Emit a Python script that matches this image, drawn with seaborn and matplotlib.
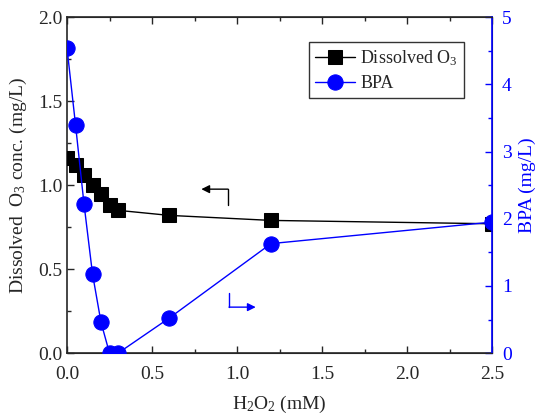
import numpy as np
import pandas as pd
import matplotlib
matplotlib.use("Agg")
import matplotlib.pyplot as plt
from matplotlib.ticker import MultipleLocator, FormatStrFormatter
import seaborn as sns

# ---- data ----
h2o2 = [0.0, 0.05, 0.1, 0.15, 0.2, 0.25, 0.3, 0.6, 1.2, 2.5]
o3_conc = [1.16, 1.12, 1.06, 1.00, 0.95, 0.88, 0.85, 0.82, 0.79, 0.77]
bpa_conc = [4.54, 3.40, 2.22, 1.18, 0.46, 0.0, 0.0, 0.52, 1.63, 1.95]

df = pd.DataFrame({"h2o2": h2o2, "o3": o3_conc, "bpa": bpa_conc})

# ---- styling ----
sns.set_style("ticks")
plt.rcParams["font.family"] = ["Liberation Serif", "DejaVu Serif"]
plt.rcParams["mathtext.fontset"] = "custom"
plt.rcParams["mathtext.rm"] = "Liberation Serif"
plt.rcParams["mathtext.default"] = "regular"
plt.rcParams["font.size"] = 13
blue = "#0000FF"

fig, ax = plt.subplots(figsize=(5.36, 4.16), dpi=100)
fig.subplots_adjust(left=0.125, right=0.918, top=0.959, bottom=0.151)
ax2 = ax.twinx()

sns.lineplot(data=df, x="h2o2", y="o3", ax=ax, color="black", marker="s",
             markersize=10, markeredgecolor="black", lw=1, label="Dissolved O$_3$",
             legend=False, zorder=3)
sns.lineplot(data=df, x="h2o2", y="bpa", ax=ax2, color=blue, marker="o",
             markersize=11, markeredgecolor=blue, lw=1, label="BPA",
             legend=False, zorder=3)

ax.set_xlim(0, 2.5)
ax.set_ylim(0, 2.0)
ax2.set_ylim(0, 5)
ax.xaxis.set_major_locator(MultipleLocator(0.5))
ax.xaxis.set_minor_locator(MultipleLocator(0.25))
ax.yaxis.set_major_locator(MultipleLocator(0.5))
ax.yaxis.set_minor_locator(MultipleLocator(0.25))
ax2.yaxis.set_major_locator(MultipleLocator(1))
ax2.yaxis.set_minor_locator(MultipleLocator(0.5))
ax.xaxis.set_major_formatter(FormatStrFormatter("%.1f"))
ax.yaxis.set_major_formatter(FormatStrFormatter("%.1f"))

ax.tick_params(which="both", direction="in", top=True, right=False, width=1, labelsize=14)
ax.tick_params(axis="x", which="major", pad=9)
ax.tick_params(which="major", length=5)
ax.tick_params(which="minor", length=3)
ax2.tick_params(which="both", direction="in", colors=blue, width=1, labelsize=14)
ax2.tick_params(which="major", length=5, pad=7)
ax2.tick_params(which="minor", length=3)
for s in ["left", "bottom", "top"]:
    ax.spines[s].set_linewidth(1.2)
ax2.spines["right"].set_color(blue)
ax2.spines["right"].set_linewidth(1.2)
ax2.spines["left"].set_visible(False)

ax.set_xlabel("H$_2$O$_2$ (mM)", fontsize=14, labelpad=8)
ax.set_ylabel("Dissolved  O$_3$ conc. (mg/L)", fontsize=14)
ax.yaxis.set_label_coords(-0.09, 0.5)
ax2.set_ylabel("BPA (mg/L)", fontsize=14, color=blue)
ax2.yaxis.set_label_coords(1.062, 0.5)

# direction arrows
ax.annotate("", xy=(0.79, 0.976), xytext=(0.947, 0.976),
            arrowprops=dict(arrowstyle="-|>", color="black", lw=1, mutation_scale=12,
                            shrinkA=0, shrinkB=0))
ax.plot([0.947, 0.947], [0.88, 0.976], color="black", lw=1)
ax.annotate("", xy=(1.11, 0.274), xytext=(0.953, 0.274),
            arrowprops=dict(arrowstyle="-|>", color=blue, lw=1, mutation_scale=12,
                            shrinkA=0, shrinkB=0))
ax.plot([0.953, 0.953], [0.357, 0.274], color=blue, lw=1)

h1, l1 = ax.get_legend_handles_labels()
h2, l2 = ax2.get_legend_handles_labels()
leg = ax2.legend(h1 + h2, l1 + l2, loc="upper left", bbox_to_anchor=(0.569, 0.926),
                 borderaxespad=0, frameon=True, fancybox=False, edgecolor="black",
                 fontsize=13, handlelength=2.2, handletextpad=0.3,
                 borderpad=0.35, labelspacing=0.4)
leg.get_frame().set_linewidth(1)

fig.savefig("out.png", dpi=100)
